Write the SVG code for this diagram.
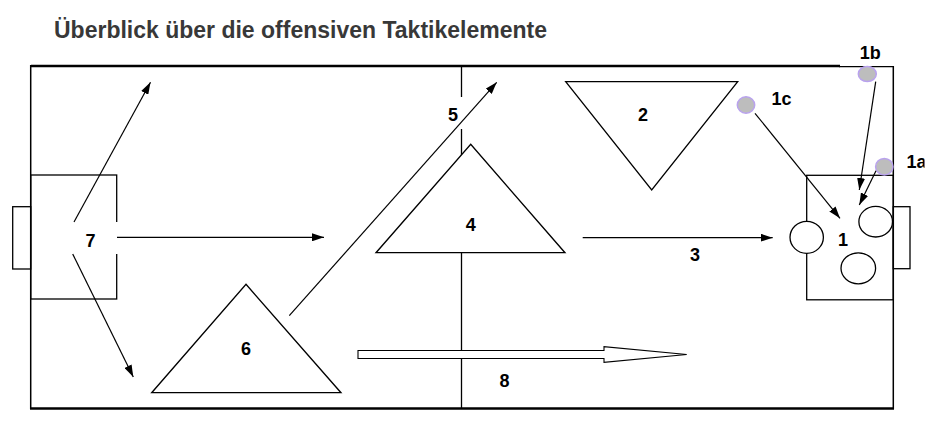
<svg xmlns="http://www.w3.org/2000/svg" width="941" height="427" viewBox="0 0 941 427">
<defs>
<marker id="ah" viewBox="0 0 12 8" refX="12" refY="4" markerWidth="12" markerHeight="8" markerUnits="userSpaceOnUse" orient="auto">
<path d="M0,0 L12,4 L0,8 Z" fill="#000"/>
</marker>
<clipPath id="clip1a"><rect x="900" y="145" width="24.5" height="30"/></clipPath>
<style>
.ln{fill:none;stroke:#000;stroke-width:1.3}
.sh{fill:#fff;stroke:#000;stroke-width:1.3}
.con{fill:none;stroke:#000;stroke-width:1.2;marker-end:url(#ah)}
.lbl{font-family:"Liberation Sans",Arial,sans-serif;font-weight:bold;font-size:18px;fill:#000;text-anchor:middle}
.pl{fill:#bdbdbd;stroke:#b9a2ee;stroke-width:1.5}
</style>
</defs>
<rect width="941" height="427" fill="#fff"/>
<text x="54" y="38.3" font-family="Liberation Sans, Arial, sans-serif" font-weight="bold" font-size="23" fill="#383838">Überblick über die offensiven Taktikelemente</text>
<g id="field">
<line x1="31" y1="66" x2="840" y2="66" stroke="#000" stroke-width="2.6"/>
<line x1="839" y1="66.7" x2="893.3" y2="66.7" stroke="#000" stroke-width="1.3"/>
<line x1="30.7" y1="65" x2="30.7" y2="409" stroke="#000" stroke-width="1.5"/>
<line x1="893.3" y1="66" x2="893.3" y2="409" stroke="#000" stroke-width="1.5"/>
<line x1="30" y1="408.5" x2="894" y2="408.5" stroke="#000" stroke-width="2.6"/>
<line x1="461.5" y1="66" x2="461.5" y2="408" class="ln"/>
<rect x="30.7" y="175" width="86" height="124" class="ln"/>
<rect x="12.7" y="206.7" width="18" height="62.3" class="ln"/>
<rect x="806.7" y="175.3" width="86.6" height="124.5" class="ln"/>
<rect x="893.3" y="206.7" width="16.7" height="62" class="ln"/>
</g>
<rect x="440" y="97" width="30" height="32" fill="#fff"/>
<rect x="70" y="222" width="48" height="32" fill="#fff"/>
<g id="n4"><polygon points="470.7,144.3 565,252.7 376,252.7" class="sh"/><text x="470.7" y="230.5" class="lbl">4</text></g>
<g id="n2"><polygon points="565.7,81.7 737.7,81.7 651.7,190" class="sh"/><text x="643" y="120.5" class="lbl">2</text></g>
<g id="n6"><polygon points="246,284.3 341,392.7 151.7,392.7" class="sh"/><text x="246" y="355" class="lbl">6</text></g>
<g id="n8"><polygon points="358,350.5 604,350.5 604,346.7 686.7,354.5 604,362.3 604,358.5 358,358.5" fill="#fff" stroke="#000" stroke-width="1.1"/><text x="504.5" y="386.5" class="lbl">8</text></g>
<g id="n1">
<ellipse cx="806.7" cy="237.3" rx="16.7" ry="16" class="sh"/>
<ellipse cx="875.7" cy="221.7" rx="16.8" ry="15.3" class="sh"/>
<ellipse cx="858.3" cy="268.3" rx="17.3" ry="15.5" class="sh"/>
<text x="843" y="246" class="lbl">1</text>
</g>
<g id="n1a"><ellipse cx="884.3" cy="166.7" rx="8.7" ry="8.3" class="pl"/><text x="906.5" y="167.5" class="lbl" style="text-anchor:start" clip-path="url(#clip1a)">1a</text></g>
<g id="n1b"><ellipse cx="867.3" cy="74" rx="9" ry="7.6" class="pl"/><text x="870.3" y="58.5" class="lbl">1b</text></g>
<g id="n1c"><ellipse cx="746" cy="105" rx="8.7" ry="8.2" class="pl"/><text x="781.5" y="104.5" class="lbl">1c</text></g>
<g id="n7"><text x="90.5" y="246.5" class="lbl">7</text></g>
<g id="connectors">
<line x1="74" y1="222" x2="150.5" y2="82.3" class="con"/>
<line x1="117" y1="237.3" x2="324" y2="237.3" class="con"/>
<line x1="72.7" y1="254" x2="133.3" y2="377" class="con"/>
<line x1="289.3" y1="315.7" x2="496.7" y2="82.3" class="con"/>
<line x1="582.7" y1="237.7" x2="772.7" y2="237.7" class="con"/>
<line x1="755" y1="113.3" x2="840" y2="218.3" class="con"/>
<line x1="875.7" y1="81.7" x2="859.3" y2="190" class="con"/>
<line x1="876" y1="170.7" x2="859.3" y2="205" class="con"/>
</g>
<g id="labels">
<text x="453" y="120.5" class="lbl">5</text>
<text x="695" y="261" class="lbl">3</text>
</g>
</svg>
